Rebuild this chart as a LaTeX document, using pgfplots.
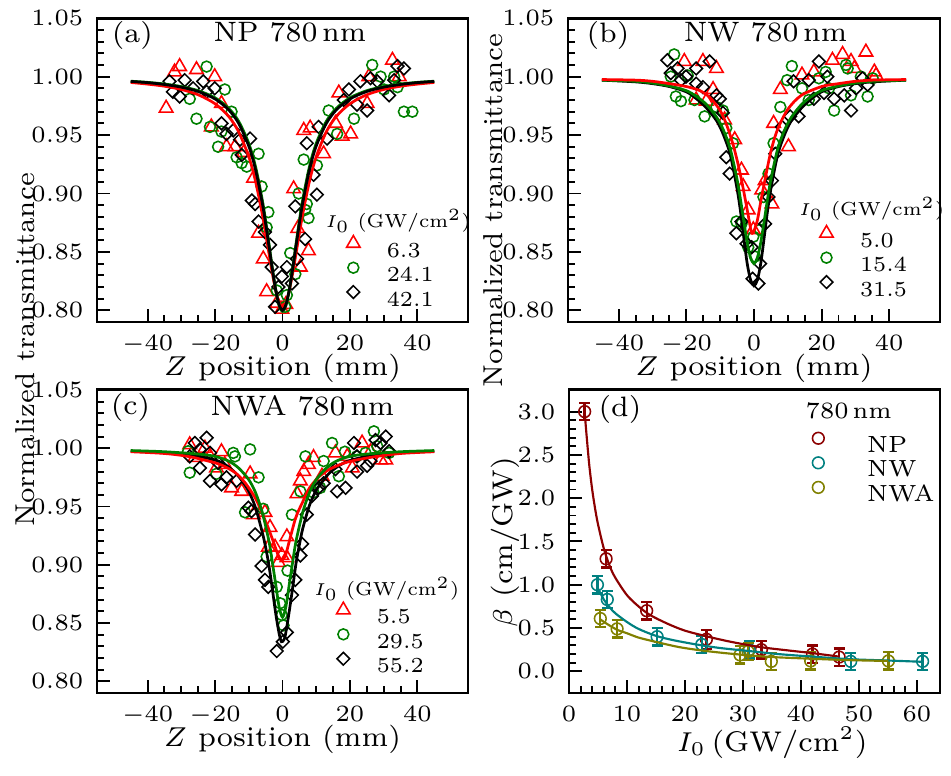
\documentclass[border=0pt]{standalone}
\usepackage{pgfplots}
\pgfplotsset{compat=1.18}
\definecolor{cred}{RGB}{255,0,0}
\definecolor{cgreen}{RGB}{0,128,0}
\definecolor{cnp}{RGB}{140,0,0}
\definecolor{cnw}{RGB}{0,128,128}
\definecolor{cnwa}{RGB}{128,128,0}
\newcommand{\tfont}{\fontsize{6}{7}\selectfont}
\newcommand{\lfont}{\fontsize{7.3}{8.5}\selectfont}
\newcommand{\yfont}{\fontsize{7}{8.5}\selectfont}
\newcommand{\gfont}{\fontsize{5.5}{6.5}\selectfont}
\newcommand{\pfont}{\fontsize{7.2}{8.5}\selectfont}
\newcommand{\ltitle}{\scalebox{0.88}{\gfont $I_0$ (GW/cm$^2$)}}
\pgfplotsset{
  base/.style={
    scale only axis, anchor=south west,
    tick align=inside, tick pos=left,
    axis line style={line width=0.75pt},
    major tick style={line width=0.5pt, black},
    minor tick style={line width=0.5pt, black},
    major tick length=3.3pt, minor tick length=1.9pt,
    tick label style={font=\tfont},
    legend cell align=left,
    clip mode=individual,
  },
  zs/.style={
    base, width=95.13pt, height=77.9pt,
    xmin=-55, xmax=55, ymin=0.79, ymax=1.05,
    xtick={-40,-20,0,20,40}, minor x tick num=3,
    ytick={0.8,0.85,0.9,0.95,1.0,1.05}, minor y tick num=4,
    yticklabel style={/pgf/number format/.cd, fixed, fixed zerofill, precision=2},
    xlabel={$Z$ position (mm)},
    xlabel style={at={(rel axis cs:0.5,0)}, anchor=base, yshift=-13.6pt, font=\lfont},
    ylabel style={font=\yfont, anchor=center},
  },
  lgimg/.style={legend image code/.code={%
     \path[draw=none, fill=none] (0pt,0pt) rectangle (6pt,3.6pt);
     \draw[##1, overlay] plot coordinates {(3pt,1.8pt)};}},
  tri/.style={only marks, mark=triangle, mark size=2pt, cred, mark options={line width=0.4pt, fill=none}, lgimg},
  cir/.style={only marks, mark=o, mark size=1.4pt, cgreen, mark options={line width=0.4pt}, lgimg},
  dia/.style={only marks, mark=square, mark size=1.15pt, black, mark options={rotate=45, line width=0.4pt}, lgimg},
  fitr/.style={no marks, smooth, cred, line width=0.7pt, forget plot},
  fitg/.style={no marks, smooth, cgreen, line width=0.7pt, forget plot},
  fitk/.style={no marks, smooth, black, line width=0.7pt, forget plot},
  zleg/.style={legend style={draw=none, fill=none, at={(rel axis cs:#1)}, anchor=north west,
     xshift=-3pt, yshift=1.8pt, inner sep=0pt, outer sep=0pt, font=\gfont,
     row sep=0.85pt, column sep=5.6pt,
     nodes={inner sep=0pt, text height=3.6pt, text depth=0pt}}},
}
\begin{document}
\begin{tikzpicture}
% ---------------- (a)
\begin{axis}[zs, at={(24.87pt,116.15pt)},
  ylabel={Normalized transmittance},
  ylabel style={at={(rel axis cs:-0.194,-0.092)}},
  zleg={0.691,0.259}]
\addplot[tri] coordinates {(-34.5,0.973) (-32,1.004) (-30.5,1.0086) (-25.5,1.006) (-20.1,1.000) (-21.1,0.957) (-18.1,0.977) (-16.6,0.940) (-14.1,0.940) (-11.5,0.935) (-8.6,0.913) (-7.1,0.866) (-5.7,0.844) (-4.7,0.816) (-1.7,0.806) (-0.2,0.801) (1.0,0.805) (3.3,0.904) (4.5,0.870) (5.3,0.837) (7.7,0.851) (6.3,0.954) (8.2,0.956) (12.2,0.934) (15.7,0.960) (17.7,0.949) (20.2,0.951) (16.7,0.986) (25.1,0.977) (25.6,1.000) (32.6,1.014) (34.6,1.000)};
\addlegendentry{6.3}
\addplot[cir] coordinates {(-22.5,1.0086) (-25.5,0.964) (-27.5,0.981) (-21.5,0.957) (-19.1,0.940) (-18.1,0.953) (-17.1,0.989) (-15.1,0.970) (-13.6,0.931) (-12.1,0.926) (-10.6,0.923) (-7.1,0.934) (-6.2,0.906) (-4.2,0.884) (-4.7,0.871) (-1.7,0.817) (0.8,0.803) (1.3,0.813) (2.3,0.849) (3.8,0.831) (4.8,0.900) (6.3,0.929) (7.2,0.891) (7.7,0.879) (6.7,0.886) (10.2,0.924) (13.7,0.971) (16.2,0.951) (21.2,0.964) (26.6,1.010) (29.1,1.000) (30.1,0.989) (33.1,1.000) (34.1,0.991) (36.0,0.970) (38.5,0.970)};
\addlegendentry{24.1}
\addplot[dia] coordinates {(-33.5,0.996) (-32.5,0.987) (-30.5,0.983) (-29.0,0.997) (-26.5,0.990) (-23.5,0.996) (-22.5,0.987) (-20.1,0.990) (-18.1,0.960) (-16.6,0.951) (-14.6,0.954) (-12.6,0.946) (-12.1,0.933) (-9.6,0.947) (-9.1,0.894) (-8.1,0.891) (-7.1,0.876) (-5.2,0.867) (-3.7,0.856) (-3.2,0.837) (-1.2,0.820) (-0.2,0.829) (-2.2,0.803) (1.3,0.837) (2.8,0.823) (4.3,0.844) (3.8,0.889) (6.7,0.861) (7.2,0.943) (9.2,0.916) (10.2,0.899) (10.7,0.957) (13.2,0.947) (18.2,0.980) (19.7,0.989) (22.1,0.976) (23.1,0.996) (25.1,0.971) (26.1,0.9986) (28.1,0.996) (31.6,0.984) (33.1,0.997) (34.1,1.009) (36.0,1.007)};
\addlegendentry{42.1}
\addplot[fitr] coordinates {(-45,0.9950) (-40,0.9936) (-35,0.9918) (-30,0.9890) (-25,0.9845) (-20,0.9768) (-16,0.9661) (-13,0.9528) (-10,0.9315) (-8,0.9105) (-6,0.8824) (-5,0.8659) (-4,0.8485) (-3,0.8315) (-2,0.8168) (-1,0.8066) (0,0.8030) (1,0.8066) (2,0.8168) (3,0.8315) (4,0.8485) (5,0.8659) (6,0.8824) (8,0.9105) (10,0.9315) (13,0.9528) (16,0.9661) (20,0.9768) (25,0.9845) (30,0.9890) (35,0.9918) (40,0.9936) (45,0.9950)};
\addplot[fitg] coordinates {(-45,0.9961) (-40,0.9951) (-35,0.9937) (-30,0.9915) (-25,0.9880) (-20,0.9819) (-16,0.9730) (-13,0.9618) (-10,0.9429) (-8,0.9231) (-6,0.8946) (-5,0.8767) (-4,0.8567) (-3,0.8362) (-2,0.8174) (-1,0.8039) (0,0.7990) (1,0.8039) (2,0.8174) (3,0.8362) (4,0.8567) (5,0.8767) (6,0.8946) (8,0.9231) (10,0.9429) (13,0.9618) (16,0.9730) (20,0.9819) (25,0.9880) (30,0.9915) (35,0.9937) (40,0.9951) (45,0.9961)};
\addplot[fitk] coordinates {(-45,0.9959) (-40,0.9949) (-35,0.9933) (-30,0.9910) (-25,0.9873) (-20,0.9809) (-16,0.9717) (-13,0.9600) (-10,0.9406) (-8,0.9205) (-6,0.8920) (-5,0.8743) (-4,0.8549) (-3,0.8351) (-2,0.8173) (-1,0.8046) (0,0.8000) (1,0.8046) (2,0.8173) (3,0.8351) (4,0.8549) (5,0.8743) (6,0.8920) (8,0.9205) (10,0.9406) (13,0.9600) (16,0.9717) (20,0.9809) (25,0.9873) (30,0.9910) (35,0.9933) (40,0.9949) (45,0.9959)};
\node[font=\pfont, anchor=base west, inner sep=0pt] at (rel axis cs:0.038,0.919) {(a)};
\node[font=\pfont, anchor=base, inner sep=0pt] at (rel axis cs:0.52,0.922) {NP 780\,nm};
\node[anchor=base west, inner sep=0pt] at (rel axis cs:0.614,0.3125) {\ltitle};
\end{axis}
% ---------------- (b)
\begin{axis}[zs, at={(145.64pt,116.15pt)}, width=95.38pt,
  ylabel={Normalized transmittance},
  ylabel style={at={(rel axis cs:-0.2016,0.368)}},
  zleg={0.695,0.292}]
\addplot[tri] coordinates {(-20.6,1.013) (-15.1,1.013) (-11.1,1.007) (-17.1,0.980) (-14.1,0.979) (-12.1,0.989) (-8.7,0.963) (-5.7,0.946) (-3.7,0.920) (-3.2,0.906) (-1.7,0.886) (-0.2,0.869) (2.3,0.903) (3.3,0.911) (5.3,0.891) (5.8,0.960) (7.8,0.989) (10.2,0.940) (14.2,1.0014) (17.7,1.004) (23.2,1.014) (26.2,1.019) (28.7,1.013) (29.7,1.007) (33.1,1.021) (35.6,1.004) (36.1,1.001)};
\addlegendentry{5.0}
\addplot[cir] coordinates {(-23.6,1.019) (-24.6,1.000) (-23.1,0.983) (-21.6,0.979) (-19.6,1.001) (-17.6,0.980) (-14.6,0.966) (-11.1,0.974) (-9.2,0.971) (-8.2,0.956) (-6.2,0.943) (-5.2,0.876) (-3.7,0.874) (-1.7,0.854) (0.3,0.846) (-0.2,0.863) (1.8,0.869) (2.8,0.897) (4.3,0.917) (5.8,0.943) (7.8,0.974) (9.8,0.997) (11.2,1.009) (14.2,0.990) (16.2,0.980) (19.2,0.9986) (21.2,1.004) (22.2,0.990) (23.7,0.971) (27.2,1.010) (27.7,1.007) (28.7,0.984) (31.6,1.000) (33.6,0.983) (35.1,0.9986)};
\addlegendentry{15.4}
\addplot[dia] coordinates {(-25.6,1.014) (-24.6,1.003) (-22.6,1.007) (-21.6,0.997) (-20.1,1.000) (-17.1,1.007) (-17.1,0.994) (-15.1,0.991) (-13.1,1.013) (-11.1,0.984) (-10.1,0.981) (-9.2,0.969) (-8.2,0.931) (-7.2,0.917) (-5.2,0.866) (-3.7,0.876) (-2.2,0.857) (-0.7,0.854) (-0.4,0.827) (1.3,0.823) (1.8,0.840) (3.3,0.874) (4.3,0.897) (5.3,0.911) (6.3,0.934) (8.3,0.957) (10.7,0.966) (11.7,0.996) (13.2,0.966) (16.2,0.997) (17.7,0.981) (19.2,1.013) (20.7,0.986) (21.7,1.000) (23.7,0.981) (26.7,0.984) (28.7,0.971) (30.2,0.990) (32.1,0.9986) (33.6,0.993)};
\addlegendentry{31.5}
\addplot[fitk] coordinates {(-45,0.9970) (-35,0.9955) (-30,0.9940) (-25,0.9915) (-20,0.9870) (-17,0.9810) (-14,0.9730) (-11,0.9620) (-9,0.9500) (-7,0.9330) (-5,0.9040) (-4,0.8850) (-3,0.8620) (-2,0.8400) (-1,0.8260) (0,0.8210) (1,0.8260) (2,0.8400) (3,0.8620) (4,0.8850) (5,0.9040) (7,0.9330) (9,0.9500) (11,0.9620) (14,0.9730) (17,0.9810) (20,0.9870) (25,0.9915) (30,0.9940) (35,0.9955) (45,0.9970)};
\addplot[fitg] coordinates {(-45,0.9970) (-35,0.9960) (-30,0.9945) (-25,0.9920) (-20,0.9880) (-17,0.9830) (-14,0.9760) (-11,0.9650) (-9,0.9540) (-7,0.9380) (-5,0.9120) (-4,0.8950) (-3,0.8760) (-2,0.8580) (-1,0.8450) (0,0.8400) (1,0.8450) (2,0.8580) (3,0.8760) (4,0.8950) (5,0.9120) (7,0.9380) (9,0.9540) (11,0.9650) (14,0.9760) (17,0.9830) (20,0.9880) (25,0.9920) (30,0.9945) (35,0.9960) (45,0.9970)};
\addplot[fitr] coordinates {(-45,0.9975) (-35,0.9970) (-30,0.9960) (-25,0.9940) (-20,0.9915) (-16,0.9880) (-13,0.9820) (-10,0.9710) (-8,0.9580) (-6,0.9400) (-4,0.9160) (-2,0.8860) (-1,0.8700) (-0.5,0.8660) (0,0.8680) (1,0.8770) (2,0.8930) (3,0.9080) (5,0.9360) (7,0.9550) (10,0.9720) (14,0.9840) (20,0.9915) (25,0.9940) (30,0.9960) (35,0.9970) (45,0.9975)};
\node[font=\pfont, anchor=base west, inner sep=0pt] at (rel axis cs:0.048,0.919) {(b)};
\node[font=\pfont, anchor=base, inner sep=0pt] at (rel axis cs:0.531,0.922) {NW 780\,nm};
\node[anchor=base west, inner sep=0pt] at (rel axis cs:0.619,0.352) {\ltitle};
\end{axis}
% ---------------- (c)
\begin{axis}[zs, at={(24.87pt,21.03pt)}, height=77.7pt,
  zleg={0.664,0.274}]
\addplot[tri] coordinates {(-27.5,1.003) (-26.0,0.992) (-23.0,1.000) (-21.5,0.993) (-19.6,0.983) (-18.1,0.997) (-17.1,0.986) (-15.1,0.966) (-12.1,0.963) (-9.6,0.978) (-8.6,0.943) (-5.2,0.945) (-4.2,0.915) (-3.7,0.932) (-2.2,0.915) (-1.2,0.902) (-0.2,0.908) (1.3,0.924) (1.3,0.906) (4.3,0.961) (5.3,0.972) (6.3,0.980) (7.7,0.986) (9.2,0.992) (11.7,0.976) (15.7,0.996) (19.2,0.993) (20.7,0.983) (23.6,1.0045) (26.1,0.997) (29.1,0.990) (30.6,0.990)};
\addlegendentry{5.5}
\addplot[cir] coordinates {(-28.0,0.9974) (-27.5,0.979) (-19.6,0.978) (-14.6,0.996) (-14.1,0.993) (-11.1,0.945) (-9.6,0.999) (-7.1,0.975) (-5.7,0.948) (-4.7,0.907) (-1.7,0.881) (-0.7,0.867) (-0.2,0.857) (0.3,0.848) (1.5,0.895) (2.8,0.943) (5.3,0.963) (6.8,0.993) (9.2,0.962) (11.2,0.966) (12.2,0.989) (14.7,1.0045) (16.7,0.976) (18.5,0.997) (22.0,0.993) (24.6,0.996) (27.1,1.0145) (28.1,1.0017) (31.6,0.996)};
\addlegendentry{29.5}
\addplot[dia] coordinates {(-27.5,0.993) (-26.0,1.0045) (-24.5,0.9989) (-24.5,0.983) (-22.5,1.009) (-21.5,0.996) (-21.5,0.972) (-19.1,0.9875) (-18.1,0.969) (-16.6,0.975) (-13.6,0.972) (-10.1,0.949) (-9.2,0.946) (-8.1,0.926) (-6.2,0.899) (-5.2,0.887) (-4.2,0.881) (-1.7,0.826) (0.1,0.834) (1.3,0.842) (2.8,0.874) (3.8,0.887) (5.3,0.908) (5.8,0.918) (7.2,0.943) (8.7,0.959) (10.7,0.966) (12.2,0.970) (16.2,0.963) (18.7,0.966) (15.7,0.982) (21.2,1.0045) (22.1,0.993) (22.1,0.980) (25.1,0.985) (26.1,0.989) (27.6,1.007) (29.1,1.0045) (30.6,1.010) (31.6,0.9974)};
\addlegendentry{55.2}
\addplot[fitk] coordinates {(-45,0.9975) (-35,0.9960) (-30,0.9948) (-25,0.9930) (-20,0.9900) (-17,0.9860) (-14,0.9790) (-12,0.9720) (-10,0.9630) (-8,0.9490) (-6,0.9280) (-5,0.9150) (-4,0.8990) (-3,0.8790) (-2,0.8580) (-1,0.8410) (-0.3,0.8340) (0.5,0.8360) (1,0.8420) (2,0.8600) (3,0.8800) (4,0.9010) (5,0.9170) (6,0.9310) (8,0.9510) (10,0.9640) (12,0.9720) (14,0.9790) (17,0.9855) (20,0.9895) (25,0.9930) (30,0.9948) (35,0.9960) (45,0.9975)};
\addplot[fitr] coordinates {(-45,0.9970) (-35,0.9955) (-28,0.9930) (-22,0.9890) (-18,0.9855) (-14,0.9790) (-11,0.9700) (-8,0.9570) (-6,0.9440) (-4,0.9300) (-2,0.9140) (-1,0.9060) (0,0.9040) (1,0.9090) (2,0.9200) (4,0.9410) (6,0.9540) (8,0.9660) (11,0.9760) (14,0.9820) (18,0.9870) (22,0.9900) (28,0.9930) (35,0.9955) (45,0.9970)};
\addplot[fitg] coordinates {(-45,0.9980) (-35,0.9970) (-25,0.9950) (-20,0.9930) (-16,0.9890) (-13,0.9830) (-10,0.9730) (-8,0.9620) (-6,0.9450) (-4,0.9200) (-3,0.9020) (-2,0.8830) (-1,0.8640) (0,0.8550) (1,0.8640) (2,0.8830) (3,0.9020) (4,0.9200) (6,0.9450) (8,0.9620) (10,0.9730) (13,0.9830) (16,0.9890) (20,0.9930) (25,0.9950) (35,0.9970) (45,0.9980)};
\node[font=\pfont, anchor=base west, inner sep=0pt] at (rel axis cs:0.035,0.919) {(c)};
\node[font=\pfont, anchor=base, inner sep=0pt] at (rel axis cs:0.554,0.917) {NWA 780\,nm};
\node[anchor=base west, inner sep=0pt] at (rel axis cs:0.583,0.323) {\ltitle};
\end{axis}
% ---------------- (d)
\begin{axis}[base, at={(145.9pt,21.03pt)}, width=95.13pt, height=77.7pt,
  xmin=0, xmax=64, ymin=-0.25, ymax=3.25,
  xtick={0,10,20,30,40,50,60}, minor x tick num=4,
  ytick={0,0.5,1,1.5,2,2.5,3}, minor y tick num=4,
  yticklabel style={/pgf/number format/.cd, fixed, fixed zerofill, precision=1},
  xlabel={$I_0\,$(GW/cm$^2$)},
  xlabel style={at={(rel axis cs:0.548,0)}, anchor=base, yshift=-15pt, font=\lfont},
  ylabel={$\beta$ (cm/GW)},
  ylabel style={at={(rel axis cs:-0.1725,0.498)}, anchor=center, font=\lfont},
  legend style={draw=none, fill=none, at={(rel axis cs:0.672,0.8406)}, anchor=north west,
     xshift=-3pt, yshift=1.8pt, inner sep=0pt, outer sep=0pt, font=\fontsize{6}{7}\selectfont,
     row sep=0.9pt, column sep=9.5pt,
     nodes={inner sep=0pt, text height=3.6pt, text depth=0pt}},
  error bars/error bar style={line width=0.6pt},
  error bars/error mark options={rotate=90, line width=0.6pt, mark size=1.4pt},
]
\addplot[only marks, mark=o, mark size=1.5pt, cnp, mark options={line width=0.4pt}, lgimg,
  error bars/.cd, y dir=both, y explicit] coordinates {(2.7,3.00) +- (0,0.1) (6.4,1.30) +- (0,0.1) (13.4,0.70) +- (0,0.1) (23.7,0.37) +- (0,0.11) (33.2,0.25) +- (0,0.1) (42.0,0.20) +- (0,0.1) (46.6,0.165) +- (0,0.1)};
\addlegendentry{NP}
\addplot[only marks, mark=o, mark size=1.5pt, cnw, mark options={line width=0.4pt}, lgimg,
  error bars/.cd, y dir=both, y explicit] coordinates {(4.9,1.00) +- (0,0.1) (6.6,0.83) +- (0,0.1) (15.2,0.40) +- (0,0.1) (22.9,0.31) +- (0,0.1) (31.1,0.25) +- (0,0.1) (48.6,0.115) +- (0,0.1) (61.0,0.115) +- (0,0.1)};
\addlegendentry{NW}
\addplot[only marks, mark=o, mark size=1.5pt, cnwa, mark options={line width=0.4pt}, lgimg,
  error bars/.cd, y dir=both, y explicit] coordinates {(5.4,0.61) +- (0,0.1) (8.3,0.49) +- (0,0.1) (29.5,0.19) +- (0,0.1) (30.9,0.23) +- (0,0.1) (34.9,0.115) +- (0,0.1) (41.7,0.12) +- (0,0.1) (55.1,0.12) +- (0,0.1)};
\addlegendentry{NWA}
\addplot[no marks, smooth, cnp, line width=0.55pt, forget plot] coordinates {(2.7,3.00) (3.0,2.75) (3.5,2.38) (4.0,2.10) (4.5,1.88) (5.0,1.70) (6.0,1.42) (7.0,1.22) (8.0,1.08) (10,0.88) (12,0.75) (14,0.65) (17,0.55) (20,0.47) (24,0.40) (28,0.34) (33,0.28) (38,0.24) (42,0.21) (46.6,0.17)};
\addplot[no marks, smooth, cnw, line width=0.55pt, forget plot] coordinates {(4.9,0.97) (6.0,0.83) (7.0,0.74) (8.0,0.67) (10,0.57) (12,0.49) (15,0.41) (18,0.36) (22,0.31) (26,0.27) (31,0.235) (36,0.20) (42,0.17) (48.6,0.14) (55,0.125) (61,0.11)};
\addplot[no marks, smooth, cnwa, line width=0.55pt, forget plot] coordinates {(5.4,0.60) (6.5,0.55) (8.3,0.48) (10,0.44) (12,0.39) (15,0.34) (19,0.28) (23,0.24) (27,0.21) (31,0.185) (35,0.165) (42,0.145) (48,0.13) (55.1,0.12)};
\node[font=\pfont, anchor=base west, inner sep=0pt] at (rel axis cs:0.078,0.9125) {(d)};
\node[font=\fontsize{6}{7}\selectfont, anchor=base west, inner sep=0pt] at (rel axis cs:0.636,0.9066) {780\,nm};
\end{axis}
\pgfresetboundingbox
\path[use as bounding box] (0,0) rectangle (243.85pt,198.72pt);
\end{tikzpicture}
\end{document}
